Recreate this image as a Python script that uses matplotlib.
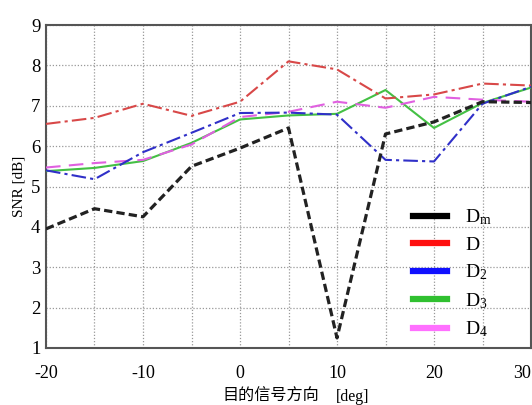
import matplotlib
matplotlib.use("Agg")
import matplotlib.pyplot as plt
from matplotlib.lines import Line2D

angles = [-20, -15, -10, -5, 0, 5, 10, 15, 20, 25, 30]
snr_dm = [3.95, 4.45, 4.25, 5.5, 5.95, 6.45, 1.25, 6.3, 6.6, 7.1, 7.08]
snr_d = [6.55, 6.7, 7.05, 6.75, 7.1, 8.1, 7.9, 7.18, 7.28, 7.55, 7.5]
snr_d2 = [5.4, 5.18, 5.85, 6.33, 6.82, 6.83, 6.78, 5.66, 5.62, 7.05, 7.47]
snr_d3 = [5.38, 5.46, 5.63, 6.08, 6.66, 6.76, 6.8, 7.39, 6.45, 7.07, 7.45]
snr_d4 = [5.47, 5.58, 5.66, 6.04, 6.72, 6.85, 7.1, 6.95, 7.22, 7.15, 7.1]
labels = [r"D$_\mathrm{m}$", "D", r"D$_2$", r"D$_3$", r"D$_4$"]
xtick_vals = [-20, -15, -10, -5, 0, 5, 10, 15, 20, 25, 30]
xtick_labels = ["-20", "", "-10", "", "0", "", "10", "", "20", "", "30"]
ytick_vals = [1, 2, 3, 4, 5, 6, 7, 8, 9]
xlabel_cn = "目的信号方向"
xlabel_unit = "[deg]"
ylabel = "SNR [dB]"

plt.rcParams["mathtext.fontset"] = "custom"
plt.rcParams["mathtext.rm"] = "Liberation Serif"
plt.rcParams["mathtext.it"] = "Liberation Serif:italic"
serif = "Liberation Serif"

fig = plt.figure(figsize=(5.32, 4.05), dpi=100)
ax = fig.add_axes([46/532, 1-348/405, 485/532, 323/405])

ax.plot(angles, snr_dm, color="#222222", lw=2.3, ls=(0, (2.6, 1.3)), zorder=5)
ax.plot(angles, snr_d, color="#d84848", lw=1.5, ls=(0, (7, 2, 1.5, 2)), zorder=4)
ax.plot(angles, snr_d2, color="#3030c8", lw=1.5, ls=(0, (7, 2, 1.5, 2)), zorder=4)
ax.plot(angles, snr_d3, color="#44c044", lw=1.5, ls="-", zorder=3)
ax.plot(angles, snr_d4, color="#e060e0", lw=1.5, ls=(0, (7, 4)), zorder=3)

ax.set_xlim(-20, 30)
ax.set_ylim(1, 9)
ax.set_xticks(xtick_vals)
ax.set_xticklabels(xtick_labels, fontfamily=serif, fontsize=13)
ax.set_yticks(ytick_vals)
ax.set_yticklabels([str(v) for v in ytick_vals], fontfamily=serif, fontsize=13.5)
ax.tick_params(length=0, pad=4)
ax.tick_params(axis="x", pad=12)
tl = ax.get_xticklabels()
tl[-1].set_ha("right")
ax.grid(True, color="#999999", ls=(0, (1, 1.5)), lw=0.9)
for s in ax.spines.values():
    s.set_color("#555555")
    s.set_linewidth(1.5)

ax.set_ylabel(ylabel, fontfamily=serif, fontsize=11, labelpad=4)
fig.text(222/532, 1-401/405, xlabel_cn, fontfamily="Noto Sans CJK SC",
         fontsize=11.6, ha="left", va="baseline")
fig.text(336/532, 1-401/405, xlabel_unit, fontfamily=serif,
         fontsize=11.5, ha="left", va="baseline")

handles = [Line2D([], [], color=c, lw=4.5) for c in
           ["#000000", "#ff1010", "#1010ff", "#30c030", "#ff70ff"]]
leg = fig.legend(handles, labels, loc="upper left",
                 bbox_to_anchor=(403/532, 1-198/405), frameon=False,
                 prop={"family": serif, "size": 14}, handlelength=1.75,
                 handletextpad=0.95, labelspacing=0.45, borderpad=0)

fig.savefig("out.png", dpi=100, facecolor="white")
